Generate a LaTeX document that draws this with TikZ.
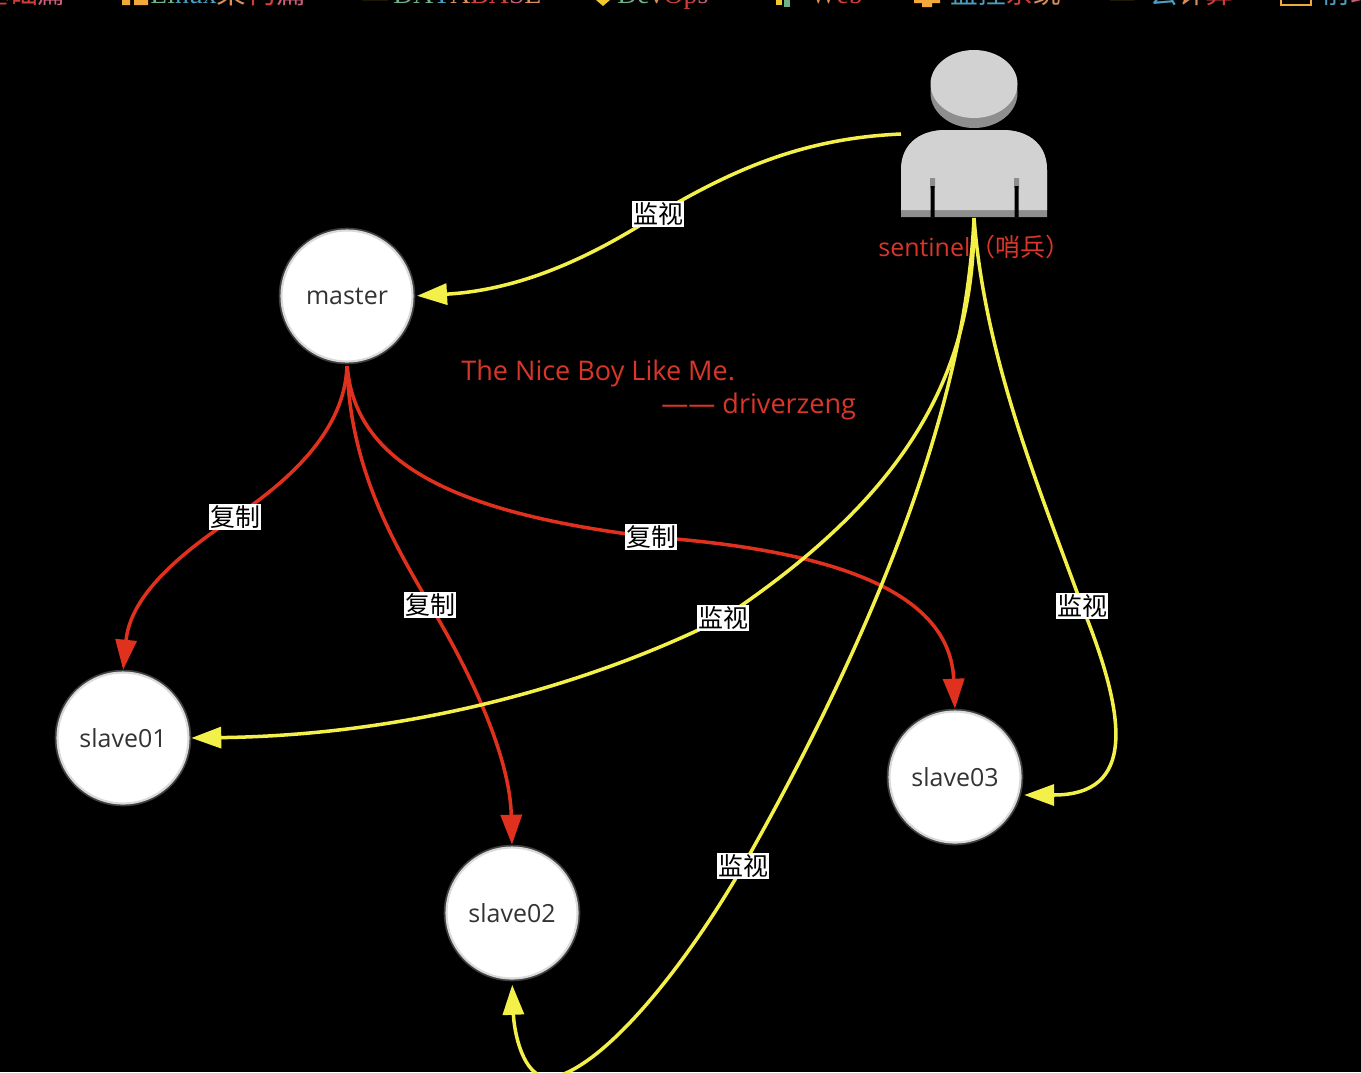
\documentclass[tikz,border=0pt]{standalone}
\usepackage{fontspec}
\setmainfont{Open Sans}
\newfontfamily\cjk{Noto Sans CJK SC}
\newfontfamily\topser{Liberation Serif}
\usetikzlibrary{arrows.meta}
\definecolor{warnred}{HTML}{D9362A}
\definecolor{linered}{HTML}{E0301E}
\definecolor{lineyel}{HTML}{F4F04A}
\definecolor{manface}{HTML}{D2D2D2}
\definecolor{manshade}{HTML}{8E8E8E}
\definecolor{nodetxt}{HTML}{333333}
\definecolor{tg}{HTML}{6FB28A}
\definecolor{tb}{HTML}{4C9FC0}
\definecolor{tr}{HTML}{D0403A}
\definecolor{to}{HTML}{D9905A}
\definecolor{tp}{HTML}{C8607A}
\definecolor{iconor}{HTML}{F2A93B}
\definecolor{iconye}{HTML}{F5C92E}
\newcommand{\cc}[2]{\textcolor{#1}{#2}}
\tikzset{
  x=0.02cm,y=-0.02cm,
  circ/.style={circle,fill=white,preaction={draw=white!25!black,line width=3.2pt},draw=white!85!black,line width=1.2pt,minimum size=2.62cm,inner sep=0pt,text=nodetxt,font=\fontsize{14.2}{16}\selectfont},
  lbl/.style={fill=white,text=black,inner sep=0.6pt,font=\cjk\fontsize{14.2}{16}\selectfont},
  redtxt/.style={text=warnred,inner sep=0pt,font=\fontsize{14.2}{16}\selectfont},
  notetxt/.style={text=warnred,inner sep=0pt,anchor=west,font=\fontsize{15.4}{18}\selectfont},
  yel/.style={draw=lineyel,line width=2pt,-{Triangle[length=0.6cm,width=0.42cm,fill=lineyel]}},
  rd/.style={draw=linered,line width=2pt,-{Triangle[length=0.6cm,width=0.42cm,fill=linered]}},
  topser/.style={inner sep=0pt,anchor=base west,font=\topser\fontsize{15.8}{18}\selectfont},
  topcjk/.style={inner sep=0pt,anchor=base west,font=\cjk\fontsize{15.8}{18}\selectfont},
}
\begin{document}
\begin{tikzpicture}
\useasboundingbox (0,0) rectangle (1361,1072);
\clip (0,0) rectangle (1361,1072);
\fill[black] (0,0) rectangle (1361,1072);
% top strip, cut by the edge of the picture
\node[topcjk] (t1) at (-18,3) {\cc{tr}{基}\cc{tr}{础}\cc{tp}{篇}};
\fill[iconor] (122,-5) rectangle (130,5) (134,-5) rectangle (148,5);
\node[topser] (t2) at (150,3) {\cc{tg}{L}\cc{tg}{i}\cc{tb}{n}\cc{tb}{u}\cc{tb}{x}\cjk\fontsize{17}{18}\selectfont\cc{to}{架}\cc{tr}{构}\cc{tp}{篇}};
\fill[iconor] (362,0) arc (180:360:13 and 7) -- cycle;
\node[topser] (t3) at (393,3) {\cc{tg}{D}\cc{tg}{A}\cc{tb}{T}\cc{to}{A}\cc{tr}{B}\cc{tr}{A}\cc{tp}{S}\cc{to}{E}};
\fill[iconye] (596,0) -- (610,0) -- (603,6) -- cycle;
\node[topser] (t4) at (617,3) {\cc{tg}{D}\cc{tg}{e}\cc{to}{v}\cc{tr}{O}\cc{tr}{p}\cc{tp}{s}};
\fill[iconye] (776,0) rectangle (782,5);
\fill[tg] (784,0) rectangle (790,7);
\node[topser] (t5) at (810,3) {\cc{to}{W}\cc{tr}{e}\cc{tr}{b}};
\fill[iconor] (914,0) rectangle (940,3) (922,3) rectangle (932,7);
\node[topcjk] (t6) at (950,3) {\cc{tb}{监}\cc{tb}{控}\cc{tr}{系}\cc{to}{统}};
\fill[iconye] (1110,0) arc (180:360:12 and 6) -- cycle;
\node[topcjk] (t7) at (1150,3) {\cc{tb}{云}\cc{to}{计}\cc{tr}{算}};
\draw[iconor,line width=1pt] (1281,0) -- (1281,5) -- (1311,5) -- (1311,0);
\node[topcjk] (t8) at (1322,3) {\cc{tb}{前}\cc{tp}{端}};
% sentinel figure
\fill[manshade] (901,170) .. controls (901,140) and (925,130) .. (945,130) -- (1003,130) .. controls (1023,130) and (1047,140) .. (1047,170) -- (1047,217) -- (901,217) -- cycle;
\fill[manface] (901,170) .. controls (901,140) and (925,130) .. (945,130) -- (1003,130) .. controls (1023,130) and (1047,140) .. (1047,170) -- (1047,210) -- (901,210) -- cycle;
\fill[manshade] (974,93) ellipse (43.5 and 35);
\fill[manface] (974,84) ellipse (43.5 and 34);
\fill[manshade] (930,178) rectangle (935,188) (1014,178) rectangle (1019,188);
\fill[black] (930.5,186) rectangle (934.5,217) (1014.5,186) rectangle (1018.5,217);
\coordinate (sleft) at (901,134);
\coordinate (sbot) at (974,218);
\node[redtxt,anchor=west] (sname) at (878,247) {sentinel\cjk （哨兵）};
% nodes
\node[circ] (master) at (347,296) {master};
\node[circ] (slave1) at (123,738) {slave01};
\node[circ] (slave2) at (512,913) {slave02};
\node[circ] (slave3) at (955,777) {slave03};
% red connectors
\draw[rd,shorten >=1pt,shorten <=2pt] (master.south) .. controls (345,430) and (290,480) .. (235,517) node[lbl] {复制} .. controls (170,560) and (130,600) .. (slave1.north);
\draw[rd,shorten >=1pt,shorten <=2pt] (master.south) .. controls (350,470) and (395,545) .. (430,605) node[lbl] {复制} .. controls (475,680) and (510,760) .. (slave2.north);
\draw[rd,shorten >=1pt,shorten <=2pt] (master.south) .. controls (355,470) and (470,515) .. (651,537) node[lbl] {复制} .. controls (830,550) and (950,590) .. (slave3.north);
% yellow connectors
\draw[yel,shorten >=2pt] (sleft) .. controls (810,138) and (740,165) .. (658,214) node[lbl] {监视} .. controls (590,258) and (520,290) .. (master.east);
\draw[yel,shorten >=1pt] (sbot) .. controls (975,380) and (900,500) .. (723,618) node[lbl] {监视} .. controls (600,680) and (420,735) .. (slave1.east);
\draw[yel,shorten >=3pt] (sbot) .. controls (965,420) and (860,660) .. (743,866) node[lbl] {监视} .. controls (680,975) and (600,1070) .. (550,1078) .. controls (522,1078) and (514,1030) .. (slave2.south);
\draw[yel,shorten >=1.5pt] (sbot) .. controls (985,360) and (1040,490) .. (1082,606) node[lbl] {监视} .. controls (1128,720) and (1135,795) .. (slave3.east |- 0,795);
% note
\node[notetxt] (note1) at (461,373) {The Nice Boy Like Me.};
\node[notetxt] (note2) at (661,406) {—— driverzeng};
\end{tikzpicture}
\end{document}
